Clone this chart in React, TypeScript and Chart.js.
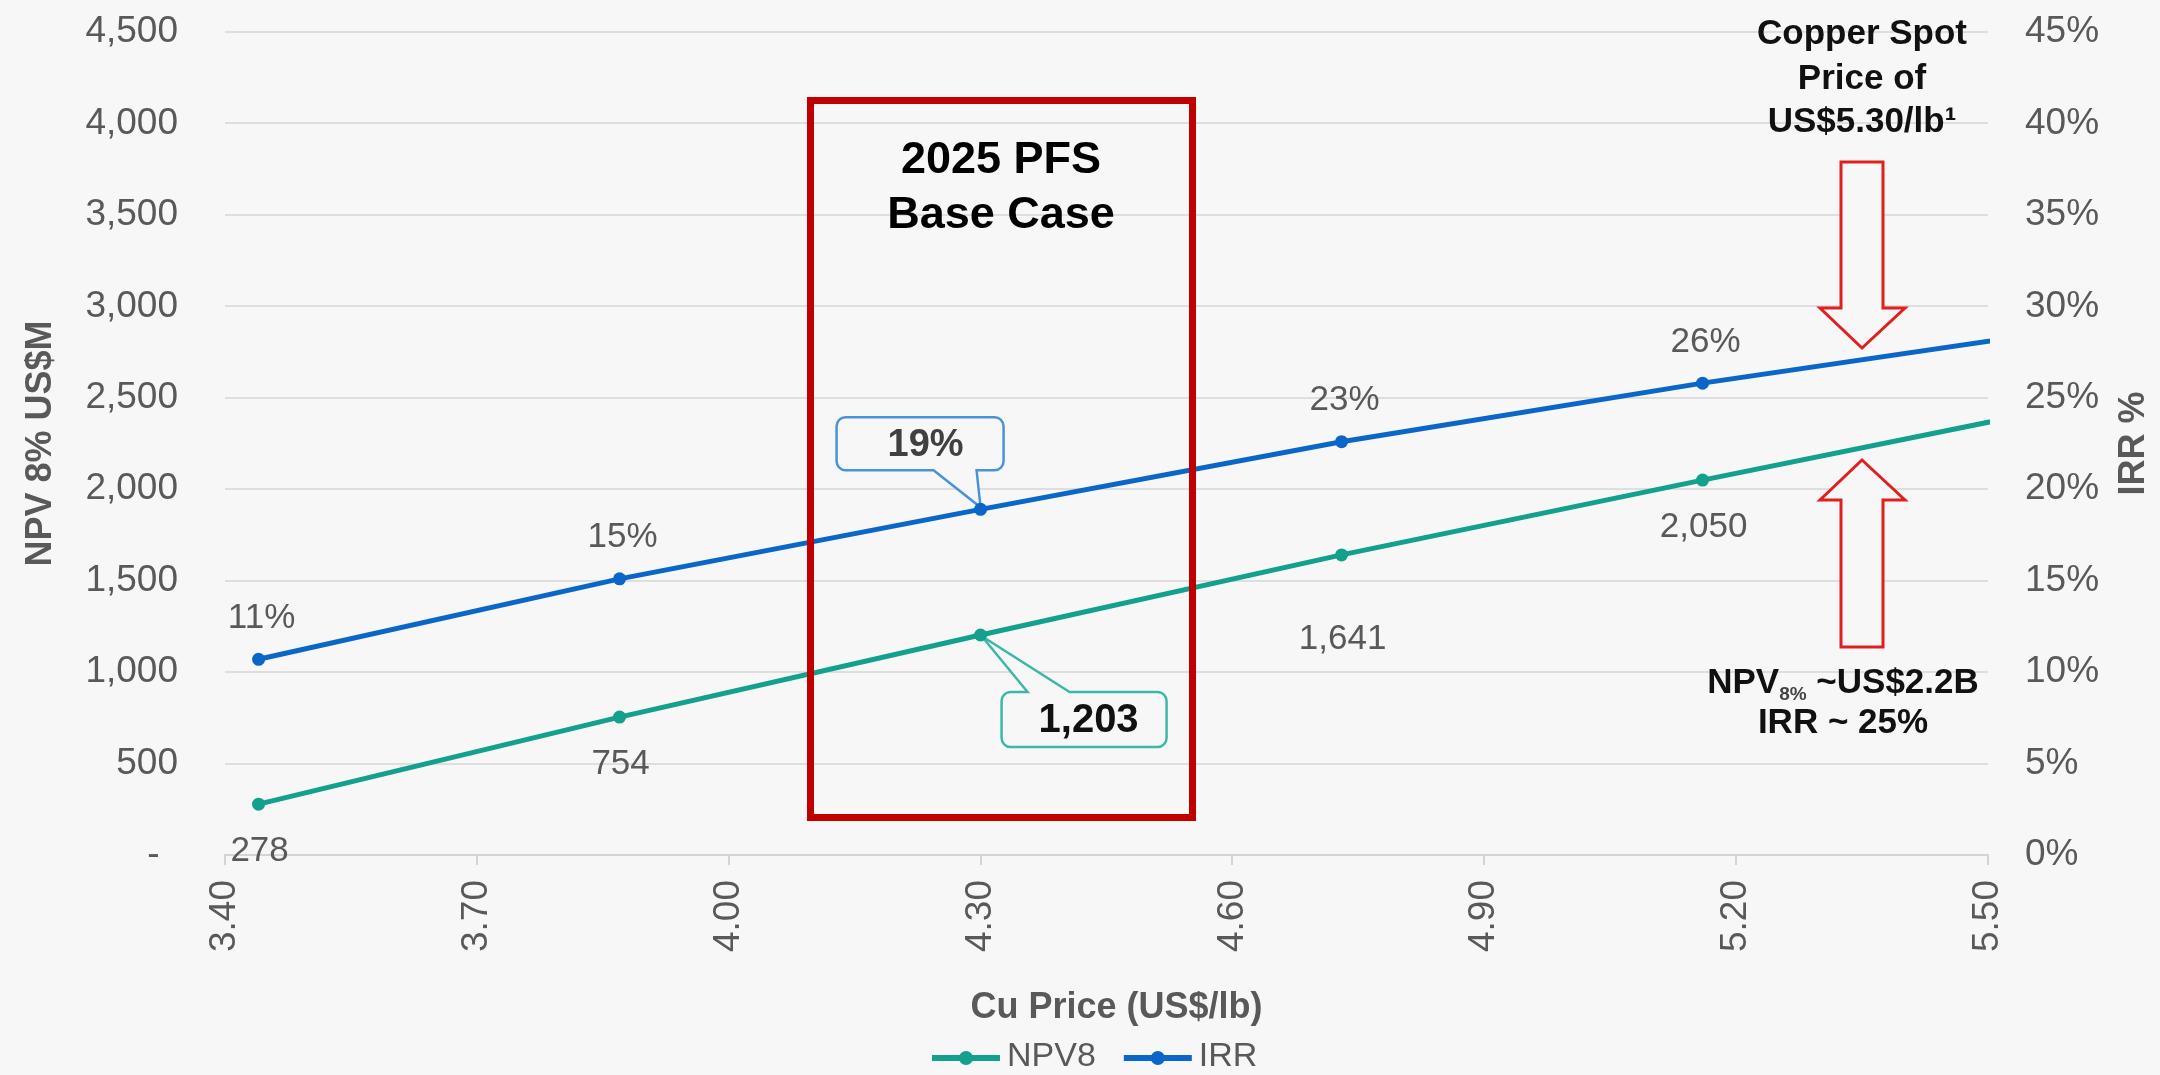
import React, { useEffect, useRef } from 'react';
import { Chart, registerables } from 'chart.js';

Chart.register(...registerables);

// ---------------- data ----------------
const cuPrice = [3.44, 3.87, 4.3, 4.73, 5.16, 5.59];
const npv8 = [278, 754, 1203, 1641, 2050, 2450];
const irrPct = [10.7, 15.1, 18.9, 22.6, 25.8, 28.7];
const xTickValues = [3.4, 3.7, 4.0, 4.3, 4.6, 4.9, 5.2, 5.5];
const npvTickValues = [0, 500, 1000, 1500, 2000, 2500, 3000, 3500, 4000, 4500];
const irrTickValues = [0, 5, 10, 15, 20, 25, 30, 35, 40, 45];
const seriesNames = ['NPV8', 'IRR'];
const baseCaseIndex = 2;
const boxTitle = ['2025 PFS', 'Base Case'];
const spotText = ['Copper Spot', 'Price of', 'US$5.30/lb\u00B9'];
const resultNpvParts = ['NPV', '8%', ' ~US$2.2B'];
const resultIrrText = 'IRR ~ 25%';
const npvAxisTitle = 'NPV 8% US$M';
const irrAxisTitle = 'IRR %';
const xAxisTitle = 'Cu Price (US$/lb)';

// ---------------- style / layout ----------------
const W = 2160;
const H = 1075;
const BG = '#F7F7F7';
const TEAL = '#13A08D';
const BLUE = '#0B67C7';
const GREY = '#595959';
const RED_BOX = '#C00000';
const RED_ARROW = '#E0201E';
const FONT = '"Liberation Sans", Arial, Helvetica, sans-serif';
const npvLabelDy = [47, 47, 0, 84, 47];
const irrLabelDy = -41;

const fmtNpv = (v: number) => Math.round(v).toLocaleString('en-US');
const fmtIrr = (v: number) => `${Math.round(v)}%`;

function calloutPath(
  ctx: CanvasRenderingContext2D,
  l: number, t: number, r: number, b: number, rad: number,
  side: 'top' | 'bottom', b1: number, b2: number, tx: number, ty: number
) {
  ctx.beginPath();
  ctx.moveTo(l + rad, t);
  if (side === 'top') {
    ctx.lineTo(b1, t);
    ctx.lineTo(tx, ty);
    ctx.lineTo(b2, t);
  }
  ctx.lineTo(r - rad, t);
  ctx.arcTo(r, t, r, t + rad, rad);
  ctx.lineTo(r, b - rad);
  ctx.arcTo(r, b, r - rad, b, rad);
  if (side === 'bottom') {
    ctx.lineTo(b2, b);
    ctx.lineTo(tx, ty);
    ctx.lineTo(b1, b);
  }
  ctx.lineTo(l + rad, b);
  ctx.arcTo(l, b, l, b - rad, rad);
  ctx.lineTo(l, t + rad);
  ctx.arcTo(l, t, l + rad, t, rad);
  ctx.closePath();
}

function polygon(ctx: CanvasRenderingContext2D, pts: number[][]) {
  ctx.beginPath();
  pts.forEach(([x, y], i) => (i === 0 ? ctx.moveTo(x, y) : ctx.lineTo(x, y)));
  ctx.closePath();
}

const decorPlugin = {
  id: 'decor',
  beforeDraw(chart: any) {
    const ctx = chart.ctx;
    ctx.save();
    ctx.fillStyle = BG;
    ctx.fillRect(0, 0, chart.width, chart.height);
    ctx.restore();
  },
  beforeDatasetsDraw(chart: any) {
    const ctx: CanvasRenderingContext2D = chart.ctx;
    const xs = chart.scales.x;
    const ys = chart.scales.y;
    const y1 = chart.scales.y1;
    const px = xs.getPixelForValue(cuPrice[baseCaseIndex]);
    const pyI = y1.getPixelForValue(irrPct[baseCaseIndex]);
    const pyN = ys.getPixelForValue(npv8[baseCaseIndex]);
    ctx.save();
    ctx.lineWidth = 2.5;
    calloutPath(ctx, px - 144, pyI - 92, px + 23, pyI - 39, 9, 'bottom', px - 47, px - 4, px, pyI - 2);
    ctx.fillStyle = BG;
    ctx.fill();
    ctx.strokeStyle = '#4A93DB';
    ctx.stroke();
    calloutPath(ctx, px + 21, pyN + 57, px + 186, pyN + 112, 9, 'top', px + 47, px + 89, px + 1, pyN + 1);
    ctx.fillStyle = BG;
    ctx.fill();
    ctx.strokeStyle = '#3DB8A8';
    ctx.stroke();
    ctx.restore();
  },
  afterDatasetsDraw(chart: any) {
    const ctx: CanvasRenderingContext2D = chart.ctx;
    const xs = chart.scales.x;
    const ys = chart.scales.y;
    const y1 = chart.scales.y1;
    ctx.save();

    // data labels
    ctx.font = `35px ${FONT}`;
    ctx.fillStyle = GREY;
    ctx.textAlign = 'center';
    ctx.textBaseline = 'middle';
    cuPrice.forEach((x, i) => {
      if (x > xs.max || i === baseCaseIndex) return;
      const px = xs.getPixelForValue(x);
      ctx.fillText(fmtIrr(irrPct[i]), px + 3, y1.getPixelForValue(irrPct[i]) + irrLabelDy);
      ctx.fillText(fmtNpv(npv8[i]), px + 1, ys.getPixelForValue(npv8[i]) + npvLabelDy[i]);
    });

    // callout texts
    const bx = xs.getPixelForValue(cuPrice[baseCaseIndex]);
    const byI = y1.getPixelForValue(irrPct[baseCaseIndex]);
    const byN = ys.getPixelForValue(npv8[baseCaseIndex]);
    ctx.font = `bold 38px ${FONT}`;
    ctx.fillStyle = '#404040';
    ctx.fillText(fmtIrr(irrPct[baseCaseIndex]), bx - 55, byI - 64);
    ctx.font = `bold 40px ${FONT}`;
    ctx.fillStyle = '#111111';
    ctx.fillText(fmtNpv(npv8[baseCaseIndex]), bx + 108, byN + 86);

    // red base-case box
    ctx.strokeStyle = RED_BOX;
    ctx.lineWidth = 7;
    ctx.strokeRect(810.5, 100.5, 382, 717);
    ctx.fillStyle = '#000000';
    ctx.font = `bold 45px ${FONT}`;
    ctx.fillText(boxTitle[0], 1001, 161);
    ctx.fillText(boxTitle[1], 1001, 216);

    // arrows
    ctx.lineWidth = 3;
    ctx.strokeStyle = RED_ARROW;
    ctx.fillStyle = BG;
    polygon(ctx, [[1841, 162], [1883, 162], [1883, 308], [1905, 308], [1862, 348], [1820, 308], [1841, 308]]);
    ctx.fill();
    ctx.stroke();
    polygon(ctx, [[1862, 460], [1905, 500], [1883, 500], [1883, 647], [1841, 647], [1841, 500], [1820, 500]]);
    ctx.fill();
    ctx.stroke();

    // spot price text
    ctx.fillStyle = '#111111';
    ctx.font = `bold 35px ${FONT}`;
    ctx.textAlign = 'center';
    ctx.fillText(spotText[0], 1862, 34);
    ctx.fillText(spotText[1], 1862, 79);
    ctx.fillText(spotText[2], 1862, 122);

    // result text
    const bigFont = `bold 35px ${FONT}`;
    const subFont = `bold 19px ${FONT}`;
    ctx.font = bigFont;
    const w1 = ctx.measureText(resultNpvParts[0]).width;
    const w3 = ctx.measureText(resultNpvParts[2]).width;
    ctx.font = subFont;
    const w2 = ctx.measureText(resultNpvParts[1]).width;
    const total = w1 + w2 + w3;
    let sx = 1843 - total / 2;
    ctx.textAlign = 'left';
    ctx.textBaseline = 'alphabetic';
    ctx.font = bigFont;
    ctx.fillStyle = '#111111';
    ctx.fillText(resultNpvParts[0], sx, 693);
    sx += w1;
    ctx.font = subFont;
    ctx.fillStyle = '#444444';
    ctx.fillText(resultNpvParts[1], sx, 700);
    sx += w2;
    ctx.font = bigFont;
    ctx.fillStyle = '#111111';
    ctx.fillText(resultNpvParts[2], sx, 693);
    ctx.textAlign = 'center';
    ctx.textBaseline = 'middle';
    ctx.fillText(resultIrrText, 1843, 723);

    ctx.restore();
  },
  afterDraw(chart: any) {
    const ctx: CanvasRenderingContext2D = chart.ctx;
    const area = chart.chartArea;
    const midY = (area.top + area.bottom) / 2;
    ctx.save();
    ctx.fillStyle = GREY;
    ctx.font = `bold 36px ${FONT}`;
    ctx.textAlign = 'center';
    ctx.textBaseline = 'middle';
    ctx.save();
    ctx.translate(41, midY);
    ctx.rotate(-Math.PI / 2);
    ctx.fillText(npvAxisTitle, 0, 0);
    ctx.restore();
    ctx.save();
    ctx.translate(2134, midY);
    ctx.rotate(-Math.PI / 2);
    ctx.fillText(irrAxisTitle, 0, 0);
    ctx.restore();
    ctx.fillText(xAxisTitle, (area.left + area.right) / 2 + 10, 1008);

    // legend
    const colors = [TEAL, BLUE];
    let lx = 932;
    const ly = 1058;
    ctx.font = `34px ${FONT}`;
    ctx.textAlign = 'left';
    seriesNames.forEach((name, i) => {
      ctx.strokeStyle = colors[i];
      ctx.fillStyle = colors[i];
      ctx.lineWidth = 6;
      ctx.beginPath();
      ctx.moveTo(lx, ly);
      ctx.lineTo(lx + 68, ly);
      ctx.stroke();
      ctx.beginPath();
      ctx.arc(lx + 34, ly, 7, 0, Math.PI * 2);
      ctx.fill();
      ctx.fillStyle = GREY;
      ctx.fillText(name, lx + 75, ly - 1);
      lx += 75 + ctx.measureText(name).width + 28;
    });
    ctx.restore();
  },
};

export default function App() {
  const canvasRef = useRef<HTMLCanvasElement | null>(null);

  useEffect(() => {
    const canvas = canvasRef.current;
    if (!canvas) return;
    const tickFont = { family: FONT, size: 37 };
    const chart = new Chart(canvas, {
      type: 'line',
      data: {
        datasets: [
          {
            label: seriesNames[0],
            data: cuPrice.map((x, i) => ({ x, y: npv8[i] })),
            yAxisID: 'y',
            borderColor: TEAL,
            backgroundColor: TEAL,
            pointBackgroundColor: TEAL,
            borderWidth: 5,
            pointRadius: 6.5,
            pointBorderWidth: 0,
            tension: 0,
            clip: 2,
          },
          {
            label: seriesNames[1],
            data: cuPrice.map((x, i) => ({ x, y: irrPct[i] })),
            yAxisID: 'y1',
            borderColor: BLUE,
            backgroundColor: BLUE,
            pointBackgroundColor: BLUE,
            borderWidth: 5,
            pointRadius: 6.5,
            pointBorderWidth: 0,
            tension: 0,
            clip: 2,
          },
        ],
      },
      options: {
        responsive: false,
        animation: false,
        devicePixelRatio: 1,
        layout: { padding: { top: 32, left: 0, right: 0, bottom: 0 } },
        plugins: { legend: { display: false }, tooltip: { enabled: false } },
        scales: {
          x: {
            type: 'linear',
            min: xTickValues[0],
            max: xTickValues[xTickValues.length - 1],
            afterBuildTicks: (s: any) => {
              s.ticks = xTickValues.map((v) => ({ value: v }));
            },
            ticks: {
              autoSkip: false,
              minRotation: 90,
              maxRotation: 90,
              padding: 15,
              color: GREY,
              font: tickFont,
              callback: (v: any) => Number(v).toFixed(2),
            },
            grid: { display: true, drawOnChartArea: false, drawTicks: true, tickLength: 10, color: '#D4D4D4', lineWidth: 2 },
            border: { display: true, color: '#D4D4D4', width: 2 },
            afterFit: (s: any) => {
              s.height = 220;
              s.paddingLeft = 0;
              s.paddingRight = 0;
            },
          },
          y: {
            type: 'linear',
            position: 'left',
            min: npvTickValues[0],
            max: npvTickValues[npvTickValues.length - 1],
            afterBuildTicks: (s: any) => {
              s.ticks = npvTickValues.map((v) => ({ value: v }));
            },
            ticks: {
              padding: 47,
              color: GREY,
              font: tickFont,
              callback: (v: any) => (Number(v) === 0 ? '-\u2002' : Number(v).toLocaleString('en-US')),
            },
            grid: { color: '#DEDEDE', lineWidth: 2, drawTicks: false },
            border: { display: false },
            afterFit: (s: any) => {
              s.width = 225;
              s.paddingTop = 0;
              s.paddingBottom = 0;
            },
          },
          y1: {
            type: 'linear',
            position: 'right',
            min: irrTickValues[0],
            max: irrTickValues[irrTickValues.length - 1],
            afterBuildTicks: (s: any) => {
              s.ticks = irrTickValues.map((v) => ({ value: v }));
            },
            ticks: {
              padding: 37,
              color: GREY,
              font: tickFont,
              callback: (v: any) => `${v}%`,
            },
            grid: { display: false, drawTicks: false },
            border: { display: false },
            afterFit: (s: any) => {
              s.width = 172;
              s.paddingTop = 0;
              s.paddingBottom = 0;
            },
          },
        },
      },
      plugins: [decorPlugin],
    } as any);
    return () => chart.destroy();
  }, []);

  return (
    <div style={{ position: 'absolute', left: 0, top: 0, width: W, height: H, background: BG }}>
      <canvas ref={canvasRef} width={W} height={H} style={{ display: 'block', width: W, height: H }} />
    </div>
  );
}
